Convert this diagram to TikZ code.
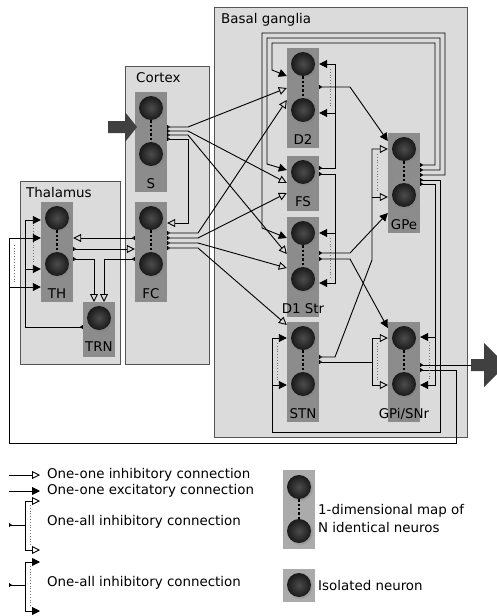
\documentclass[tikz,border=0pt]{standalone}
\usepackage{fontspec}
\setmainfont{DejaVu Sans}
\usetikzlibrary{arrows.meta,shadows}

\begin{document}
\begin{tikzpicture}
    [x=1pt,y=-1pt,
     every node/.style={font=\fontsize{13.4}{16}\selectfont},
     region/.style={draw=black!67,line width=1.2pt,fill=black!14,anchor=north west},
     title/.style={anchor=base west,inner sep=0pt},
     txt/.style={anchor=west,inner sep=0pt},
     pop/.style={fill=black!45,minimum width=32pt,anchor=north,inner sep=0pt},
     poplbl/.style={anchor=base,inner sep=0pt},
     neuron/.style={circle,minimum size=24pt,inner sep=0pt,inner color=black!70,outer color=black!90,
                    circular drop shadow={shadow xshift=1pt,shadow yshift=-1pt,opacity=.35}},
     chain/.style={line width=2.4pt,dash pattern=on 2.4pt off 2pt},
     conn/.style={line width=.9pt},
     dots/.style={dotted,line width=.8pt,black!55},
     inh/.style={conn,arrows={{Triangle[open,reversed,length=3pt,width=4pt]}-{Triangle[open,length=8pt,width=8pt]}}},
     exc/.style={conn,arrows={{Triangle[reversed,length=3pt,width=4pt]}-{Triangle[length=8pt,width=8pt]}}},
     inhend/.style={conn,arrows={-{Triangle[open,length=8pt,width=8pt]}}},
     excend/.style={conn,arrows={-{Triangle[length=8pt,width=8pt]}}},
     inhsrc/.style={conn,arrows={{Triangle[open,reversed,length=3pt,width=4pt]}-}},
     excsrc/.style={conn,arrows={{Triangle[reversed,length=3pt,width=4pt]}-}},
     bigarrow/.style={fill=black!75}]
    \useasboundingbox (0,0) rectangle (497,616);

    % regions
    \node[region,minimum width=100pt,minimum height=183pt] (thal) at (20,181) {};
    \node[region,minimum width=84pt,minimum height=298pt] (cort) at (125,66) {};
    \node[region,minimum width=253pt,minimum height=430pt] (bg) at (214,7) {};
    \node[title] (thaltxt) at (26,197) {Thalamus};
    \node[title] (corttxt) at (136,82) {Cortex};
    \node[title] (bgtxt) at (221,23) {Basal ganglia};

    % populations
    \foreach \n/\x/\y/\lab in {s/151/92/S, fc/151/202/FC, th/57/202/TH, d2/303/48/D2,
        d1/303/217/{D1 Str}, stn/303/322/STN, gpe/404/133/GPe, gpi/404/322/{GPi/SNr}} {
      \node[pop,minimum height=100pt] (\n) at (\x,\y) {};
      \node[neuron] (\n1) at (\x,\y+16) {};
      \node[neuron] (\n2) at (\x,\y+62) {};
      \draw[chain] (\n1) -- (\n2);
      \node[poplbl] at (\x,\y+96) {\lab};
    }
    \node[pop,minimum height=55pt] (trn) at (99,302) {};
    \node[neuron] (trn1) at (99,318) {};
    \node[poplbl] at (99,351) {TRN};
    \node[pop,minimum height=55pt] (fs) at (303,156) {};
    \node[neuron] (fs1) at (303,172) {};
    \node[poplbl] at (303,206) {FS};

    % input / output
    \fill[bigarrow] (108,121) -- (125,121) -- (125,112) -- (137,127) -- (125,142) -- (125,133) -- (108,133) -- cycle;
    \fill[bigarrow] (471,359) -- (484,359) -- (484,343) -- (506,365) -- (484,387) -- (484,371) -- (471,371) -- cycle;
    \draw[excsrc] (gpi.east |- 0,365) -- (471,365);

    % thalamus
    \draw[inh] (fc.west |- 0,238) -- (th.east |- 0,238);
    \draw[inh] (th.east |- 0,249) -- (fc.west |- 0,249);
    \draw[inh] (th.east |- 0,259) -| ([xshift=-5pt]trn.north);
    \draw[inh] (fc.west |- 0,259) -| ([xshift=5pt]trn.north);
    \draw[exc] (trn.west |- 0,327) -| (25,220) -- (th.west |- 0,220);
    \draw[excend] (25,269) -- (th.west |- 0,269);
    \draw[dots] (33,225) -- (33,264);
    \draw[exc] (gpi.east |- 0,370) -| (456,443) -| (9,238) -- (th.west |- 0,238);
    \draw[excend] (9,287) -- (th.west |- 0,287);
    \draw[dots] (14,245) -- (14,282);

    % cortex
    \draw[inh] (s.east |- 0,127) -- (188,127) -- (d2.west |- 0,88);
    \draw[inh] (s.east |- 0,131) -- (188,131) -- (fs.west |- 0,183);
    \draw[inh] (s.east |- 0,135) -- (188,135) -- (d1.west |- 0,254);
    \draw[inh] (s.east |- 0,139) -| (188,223) -- (fc.east |- 0,223);
    \draw[inh] (fc.east |- 0,233) -- (198,233) -- (d2.west |- 0,100);
    \draw[inh] (fc.east |- 0,238) -- (198,238) -- (fs.west |- 0,193);
    \draw[inh] (fc.east |- 0,243) -- (198,243) -- (d1.west |- 0,268);
    \draw[inh] (fc.east |- 0,248) -- (198,248) -- (stn.west |- 0,325);

    % GPe feedback
    \draw[exc] (gpe.east |- 0,165) -| (435,43) -| (272,70) -- (d2.west |- 0,76);
    \draw[exc] (gpe.east |- 0,170) -| (440,38) -| (267,164) -- (fs.west |- 0,170);
    \draw[exc] (gpe.east |- 0,175) -| (445,33) -| (262,228) -- (d1.west |- 0,238);
    \draw[exc] (gpe.east |- 0,180) -| (440,432) -| (272,338) -- (stn.west |- 0,338);
    \draw[excend] (272,385) -- (stn.west |- 0,385);
    \draw[dots] (277,343) -- (277,380);
    \draw[exc] (gpe.east |- 0,184) -| (435,385) -- (gpi.east |- 0,385);
    \draw[excend] (435,337) -- (gpi.east |- 0,337);
    \draw[dots] (429,342) -- (429,380);

    % striatum
    \draw[exc] (fs.east |- 0,168) -| (335,64) -- (d2.east |- 0,64);
    \draw[excend] (335,113) -- (d2.east |- 0,113);
    \draw[dots] (330,69) -- (330,108);
    \draw[exc] (fs.east |- 0,174) -| (335,283) -- (d1.east |- 0,283);
    \draw[excend] (335,233) -- (d1.east |- 0,233);
    \draw[dots] (330,238) -- (330,278);
    \draw[exc] (d2.east |- 0,87) -- (350,87) -- (gpe.west |- 0,141);
    \draw[exc] (d1.east |- 0,253) -- (350,253) -- (gpe.west |- 0,213);
    \draw[exc] (d1.east |- 0,259) -- (350,259) -- (gpi.west |- 0,328);

    % STN
    \draw[inh] (stn.east |- 0,357) -- (335,357) -- (372,260) |- (gpe.west |- 0,149);
    \draw[inhend] (372,197) -- (gpe.west |- 0,197);
    \draw[dots] (377,154) -- (377,192);
    \draw[inhsrc] (stn.east |- 0,362) -- (372,362);
    \draw[inhend] (372,362) |- (gpi.west |- 0,338);
    \draw[inhend] (372,362) |- (gpi.west |- 0,385);
    \draw[dots] (377,343) -- (377,380);

    % legend
    \node[txt] (l1) at (47,475) {One-one inhibitory connection};
    \node[txt] (l2) at (47,491) {One-one excitatory connection};
    \node[txt] (l3) at (47,522) {One-all inhibitory connection};
    \node[txt] (l4) at (47,583) {One-all inhibitory connection};
    \draw[inhend] (9,475) -- (40,475);
    \draw[excend] (9,491) -- (40,491);
    \draw[inhsrc] (9,525) -- (25,525);
    \draw[inhend] (25,525) |- (40,501);
    \draw[inhend] (25,525) |- (40,550);
    \draw[dots] (30,505) -- (30,546);
    \draw[excsrc] (9,585) -- (25,585);
    \draw[excend] (25,585) |- (40,562);
    \draw[excend] (25,585) |- (40,611);
    \draw[dots] (30,566) -- (30,607);

    \node[pop,fill=black!33,minimum height=79pt] (map) at (299,470) {};
    \node[neuron] (map1) at (299,487) {};
    \node[neuron] (map2) at (299,531) {};
    \draw[chain] (map1) -- (map2);
    \node[txt] (maptxt) at (318,511) {1-dimensional map of};
    \node[txt] (maptxt2) at (318,527) {N identical neuros};
    \node[pop,fill=black!33,minimum height=33pt] (iso) at (299,569) {};
    \node[neuron] (iso1) at (299,585) {};
    \node[txt] (isotxt) at (318,585) {Isolated neuron};
\end{tikzpicture}
\end{document}
